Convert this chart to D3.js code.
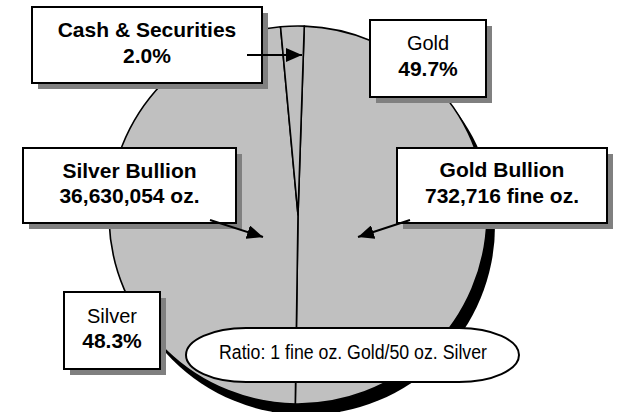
<!DOCTYPE html>
<html>
<head>
<meta charset="utf-8">
<script src="https://cdn.jsdelivr.net/npm/d3@7/dist/d3.min.js"></script>
<style>
  html, body { margin: 0; padding: 0; background: #fff; }
  svg { display: block; font-family: Arial, "Liberation Sans", Helvetica, sans-serif; }
</style>
</head>
<body>
<svg id="chart" width="628" height="412"></svg>
<script>
// ---- data ----
const categories = ["Gold", "Silver", "Cash & Securities"];
const shares = [49.7, 48.3, 2.0];
const shareLabels = ["49.7%", "48.3%", "2.0%"];
const holdingNames = ["Gold Bullion", "Silver Bullion"];
const holdingAmounts = ["732,716 fine oz.", "36,630,054 oz."];
const ratioNote = "Ratio: 1 fine oz. Gold/50 oz. Silver";

// ---- drawing ----
const svg = d3.select("#chart");
const cx = 298, cy = 215, r = 189;
const a0 = 1.9 * Math.PI / 180;

const defs = svg.append("defs");
defs.append("marker")
  .attr("id", "arrow")
  .attr("markerUnits", "userSpaceOnUse")
  .attr("markerWidth", 17).attr("markerHeight", 14)
  .attr("refX", 16).attr("refY", 7)
  .attr("orient", "auto")
  .append("path").attr("d", "M0,0 L16,7 L0,14 Z").attr("fill", "#000");

const pie = d3.pie().sort(null).value(d => d.v).startAngle(a0).endAngle(a0 + 2 * Math.PI);
const arc = d3.arc().innerRadius(0).outerRadius(r);
const data = categories.map((c, i) => ({ c, v: shares[i] }));

const g = svg.append("g").attr("transform", `translate(${cx},${cy})`);
// shadow
g.append("circle").attr("cx", 8).attr("cy", 11).attr("r", r).attr("fill", "#000");
g.selectAll("path.slice").data(pie(data)).join("path")
  .attr("class", "slice")
  .attr("d", arc)
  .attr("fill", "#c0c0c0")
  .attr("stroke", "#000")
  .attr("stroke-width", 1.6)
  .attr("stroke-linejoin", "round");

function box(x, y, w, h, lines) {
  svg.append("rect").attr("x", x + 6).attr("y", y + 6).attr("width", w).attr("height", h).attr("fill", "#808080");
  svg.append("rect").attr("x", x).attr("y", y).attr("width", w).attr("height", h)
    .attr("fill", "#fff").attr("stroke", "#000").attr("stroke-width", 2);
  lines.forEach(l => {
    svg.append("text").attr("x", x + w / 2).attr("y", l.y)
      .attr("text-anchor", "middle")
      .attr("font-size", l.bold ? 21 : 20)
      .attr("font-weight", l.bold ? "bold" : "normal")
      .attr("fill", "#000")
      .text(l.t);
  });
}

function arrow(x1, y1, x2, y2) {
  svg.append("line").attr("x1", x1).attr("y1", y1).attr("x2", x2).attr("y2", y2)
    .attr("stroke", "#000").attr("stroke-width", 2).attr("marker-end", "url(#arrow)");
}

// Cash & Securities
box(32, 7, 230, 76, [{ t: categories[2], y: 37, bold: true }, { t: shareLabels[2], y: 63, bold: true }]);
// Gold
box(370, 20, 116, 77, [{ t: categories[0], y: 50, bold: false }, { t: shareLabels[0], y: 76, bold: true }]);
// Silver Bullion
box(23, 148, 213, 75, [{ t: holdingNames[1], y: 178, bold: true }, { t: holdingAmounts[1], y: 203, bold: true }]);
// Gold Bullion
box(397, 148, 210, 75, [{ t: holdingNames[0], y: 177, bold: true }, { t: holdingAmounts[0], y: 203, bold: true }]);
// Silver
box(64, 292, 96, 77, [{ t: categories[1], y: 323, bold: false }, { t: shareLabels[1], y: 348, bold: true }]);

arrow(247, 55, 302, 55);
arrow(210, 220, 263, 237);
arrow(410, 220, 358, 237);

// Ratio note
svg.append("rect").attr("x", 186).attr("y", 328).attr("width", 333).attr("height", 54)
  .attr("rx", 60).attr("ry", 27)
  .attr("fill", "#fff").attr("stroke", "#000").attr("stroke-width", 2);
svg.append("text").attr("x", 353).attr("y", 359).attr("text-anchor", "middle")
  .attr("font-size", 20).attr("textLength", 268).attr("lengthAdjust", "spacingAndGlyphs")
  .text(ratioNote);
</script>
</body>
</html>
